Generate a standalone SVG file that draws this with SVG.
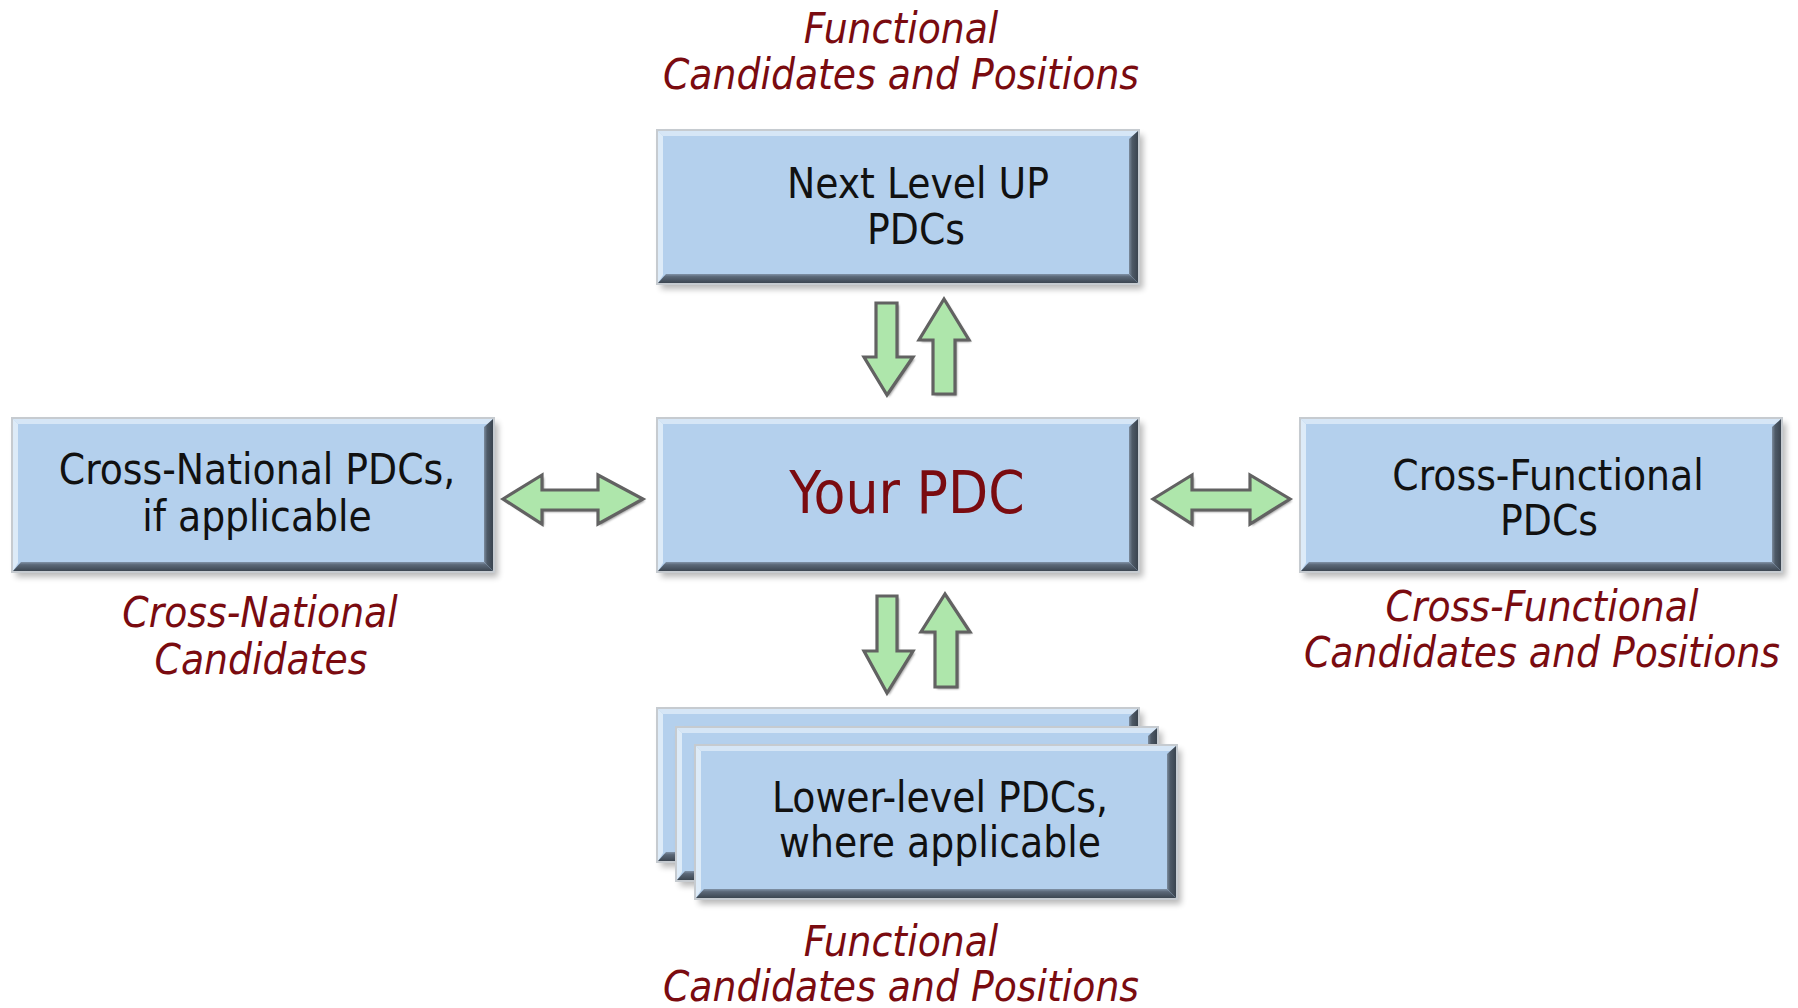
<svg xmlns="http://www.w3.org/2000/svg" xmlns:xlink="http://www.w3.org/1999/xlink" width="1798" height="1008" viewBox="0 0 1798 1008">
<defs>
<style>
.bt{font-family:"DejaVu Sans Condensed","DejaVu Sans",sans-serif;font-size:42px;fill:#111;text-anchor:middle}
.lb{font-family:"DejaVu Sans Condensed","DejaVu Sans",sans-serif;font-size:42px;font-style:italic;fill:#7A0B10;text-anchor:middle}
.me{font-family:"DejaVu Sans Condensed","DejaVu Sans",sans-serif;font-size:58px;fill:#7A0B10;text-anchor:middle}
.ar{fill:#AEE6AB;stroke:#626262;stroke-width:3.2;stroke-linejoin:miter}
.as{fill:#4A4A4A;opacity:.55}
</style>
<filter id="blur" x="-10%" y="-10%" width="120%" height="130%"><feGaussianBlur stdDeviation="3"/></filter>
<filter id="ablur" x="-20%" y="-20%" width="140%" height="140%"><feGaussianBlur stdDeviation="1.2"/></filter>
<linearGradient id="rg" x1="0" y1="0" x2="1" y2="0">
<stop offset="0" stop-color="#7C8C9E"/><stop offset=".35" stop-color="#4E5A67"/><stop offset="1" stop-color="#3A444F"/>
</linearGradient>
<linearGradient id="bg" x1="0" y1="0" x2="0" y2="1">
<stop offset="0" stop-color="#8193A8"/><stop offset=".3" stop-color="#5B6878"/><stop offset="1" stop-color="#3C4651"/>
</linearGradient>
<g id="box">
<rect x="4" y="5" width="482" height="154" fill="#000" opacity=".28" filter="url(#blur)"/>
<rect x="0" y="0" width="482" height="154" fill="#B4D0ED" stroke="#C6CBD0" stroke-width="2"/>
<polygon points="1,1 481,1 476,6 6,6" fill="#D6E6F6"/>
<polygon points="1,1 6,6 6,145 1,153" fill="#DDEBF8"/>
<polygon points="472,9 481,1 481,153 472,144" fill="url(#rg)"/>
<polygon points="1,153 9,144 472,144 481,153" fill="url(#bg)"/>
</g>
</defs>
<rect width="1798" height="1008" fill="#fff"/>

<g id="connectors">
<g id="arrow-up-pair">
<path class="as" filter="url(#ablur)" d="M878,305 H899 V359 H915 L889,397 L866,359 H878 Z"/>
<path class="ar" d="M876,303 H897 V357 H913 L887,395 L864,357 H876 Z"/>
<path class="as" filter="url(#ablur)" d="M935,396 V342 H921 L946,301 L971,342 H957 V396 Z"/>
<path class="ar" d="M933,394 V340 H919 L944,299 L969,340 H955 V394 Z"/>
</g>
<g id="arrow-down-pair">
<path class="as" filter="url(#ablur)" d="M879,598 H899 V653 H915 L889,695 L866,653 H879 Z"/>
<path class="ar" d="M877,596 H897 V651 H913 L887,693 L864,651 H877 Z"/>
<path class="as" filter="url(#ablur)" d="M937,689 V634 H923 L947,596 L972,634 H959 V689 Z"/>
<path class="ar" d="M935,687 V632 H921 L945,594 L970,632 H957 V687 Z"/>
</g>
<g id="arrow-left">
<path class="as" filter="url(#ablur)" d="M505,501 L544,477 V492 H600 V477 L645,501 L600,526 V512 H544 V526 Z"/>
<path class="ar" d="M503,499 L542,475 V490 H598 V475 L643,499 L598,524 V510 H542 V524 Z"/>
</g>
<g id="arrow-right">
<path class="as" filter="url(#ablur)" d="M1155,501 L1194,477 V492 H1252 V477 L1292,501 L1252,526 V512 H1194 V526 Z"/>
<path class="ar" d="M1153,499 L1192,475 V490 H1250 V475 L1290,499 L1250,524 V510 H1192 V524 Z"/>
</g>
</g>

<g id="node-next-level">
<use xlink:href="#box" x="657" y="130"/>
<text class="bt" x="918" y="198">Next Level UP</text>
<text class="bt" x="916" y="244">PDCs</text>
</g>

<g id="node-your-pdc">
<use xlink:href="#box" x="657" y="418"/>
<text class="me" x="907" y="513">Your PDC</text>
</g>

<g id="node-cross-national">
<use xlink:href="#box" x="12" y="418"/>
<text class="bt" x="257" y="484">Cross-National PDCs,</text>
<text class="bt" x="257" y="531">if applicable</text>
</g>

<g id="node-cross-functional">
<use xlink:href="#box" x="1300" y="418"/>
<text class="bt" x="1548" y="490">Cross-Functional</text>
<text class="bt" x="1549" y="535">PDCs</text>
</g>

<g id="node-lower-level">
<use xlink:href="#box" x="657" y="708"/>
<use xlink:href="#box" x="676" y="727"/>
<use xlink:href="#box" x="695" y="745"/>
<text class="bt" x="940" y="812">Lower-level PDCs,</text>
<text class="bt" x="940" y="857">where applicable</text>
</g>

<g id="label-top">
<text class="lb" x="901" y="43">Functional</text>
<text class="lb" x="901" y="89">Candidates and Positions</text>
</g>
<g id="label-left">
<text class="lb" x="260" y="627">Cross-National</text>
<text class="lb" x="261" y="674">Candidates</text>
</g>
<g id="label-right">
<text class="lb" x="1542" y="621">Cross-Functional</text>
<text class="lb" x="1542" y="667">Candidates and Positions</text>
</g>
<g id="label-bottom">
<text class="lb" x="901" y="956">Functional</text>
<text class="lb" x="901" y="1001">Candidates and Positions</text>
</g>
</svg>
